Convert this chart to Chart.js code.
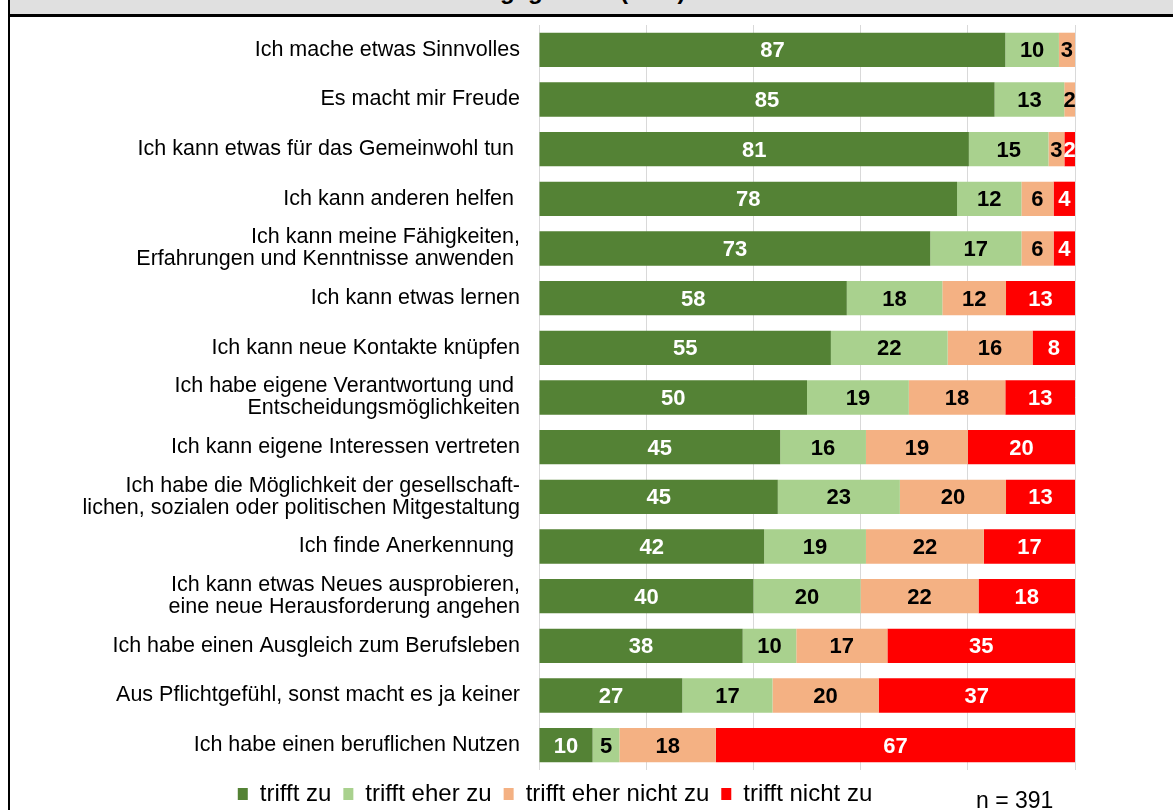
<!DOCTYPE html>
<html lang="de">
<head>
<meta charset="utf-8">
<title>Motive für das Engagement</title>
<script src="https://cdn.jsdelivr.net/npm/chart.js@4.4.1/dist/chart.umd.min.js"></script>
<style>
  html, body { margin: 0; padding: 0; background: #fff; }
  body { width: 1173px; height: 810px; position: relative; overflow: hidden; font-family: "Liberation Sans", Arial, sans-serif; }
  .header { position: absolute; left: 10px; top: 0; right: 0; height: 14px; background: #e0e0e0; overflow: hidden; z-index: 2; }
  .header span { position: absolute; left: 290px; top: -21px; font-size: 24px; line-height: 24px; font-weight: bold; white-space: nowrap; color: #000; }
  .rule { position: absolute; left: 8px; right: 0; top: 14px; height: 3px; background: #000; z-index: 2; }
  .frame-left { position: absolute; left: 8px; top: 0; bottom: 0; width: 2px; background: #000; z-index: 2; }
  #chart { position: absolute; left: 0; top: 0; }
  .n { position: absolute; left: 976px; top: 787px; font-size: 23px; color: #000; z-index: 2; }
</style>
</head>
<body>
<div class="header"><span>Motive für das Engagement (in %)</span></div>
<div class="rule"></div>
<div class="frame-left"></div>
<canvas id="chart" width="1173" height="816"></canvas>
<div class="n">n = 391</div>
<script>
const categories = [
  'Ich mache etwas Sinnvolles',
  'Es macht mir Freude',
  'Ich kann etwas für das Gemeinwohl tun ',
  'Ich kann anderen helfen ',
  ['Ich kann meine Fähigkeiten,', 'Erfahrungen und Kenntnisse anwenden '],
  'Ich kann etwas lernen',
  'Ich kann neue Kontakte knüpfen',
  ['Ich habe eigene Verantwortung und ', 'Entscheidungsmöglichkeiten'],
  'Ich kann eigene Interessen vertreten',
  ['Ich habe die Möglichkeit der gesellschaft-', 'lichen, sozialen oder politischen Mitgestaltung'],
  'Ich finde Anerkennung ',
  ['Ich kann etwas Neues ausprobieren,', 'eine neue Herausforderung angehen'],
  'Ich habe einen Ausgleich zum Berufsleben',
  'Aus Pflichtgefühl, sonst macht es ja keiner',
  'Ich habe einen beruflichen Nutzen'
];

const triffZu        = [87, 85, 81, 78, 73, 58, 55, 50, 45, 45, 42, 40, 38, 27, 10];
const triffEherZu    = [10, 13, 15, 12, 17, 18, 22, 19, 16, 23, 19, 20, 10, 17, 5];
const triffEherNicht = [3, 2, 3, 6, 6, 12, 16, 18, 19, 20, 22, 22, 17, 20, 18];
const triffNicht     = [0, 0, 2, 4, 4, 13, 8, 13, 20, 13, 17, 18, 35, 37, 67];

const seriesNames = ['trifft zu', 'trifft eher zu', 'trifft eher nicht zu', 'trifft nicht zu'];
const xTicks = [0, 20, 40, 60, 80, 100];

const fontFamily = '"Liberation Sans", Arial, sans-serif';
const colors = ['#548235', '#a9d18e', '#f4b183', '#ff0000'];
const labelColors = ['#fff', '#000', '#000', '#fff'];

// rounded shares do not always add up to 100, the bars are drawn as 100% rows
const series = [triffZu, triffEherZu, triffEherNicht, triffNicht];
const rowSums = categories.map((_, j) => series.reduce((s, d) => s + d[j], 0));

// draws the numbers in the middle of each segment
const segmentLabels = {
  id: 'segmentLabels',
  afterDatasetsDraw(chart) {
    const ctx = chart.ctx;
    ctx.save();
    ctx.font = 'bold 22px ' + fontFamily;
    ctx.textAlign = 'center';
    ctx.textBaseline = 'middle';
    chart.data.datasets.forEach((ds, i) => {
      const meta = chart.getDatasetMeta(i);
      meta.data.forEach((bar, j) => {
        const v = ds.shown[j];
        if (!v) return;
        ctx.fillStyle = labelColors[i];
        ctx.fillText(String(v), (bar.x + bar.base) / 2, bar.y + 1.5);
      });
    });
    ctx.restore();
  }
};

new Chart(document.getElementById('chart'), {
  type: 'bar',
  data: {
    labels: categories,
    datasets: series.map((d, i) => ({
      label: seriesNames[i],
      data: d.map((v, j) => v / rowSums[j] * 100),
      shown: d,
      backgroundColor: colors[i],
      borderWidth: 0,
      barPercentage: 0.69,
      categoryPercentage: 1
    }))
  },
  options: {
    indexAxis: 'y',
    responsive: false,
    animation: false,
    layout: { padding: { left: 35, right: 98, top: 25, bottom: 0 } },
    scales: {
      x: {
        stacked: true,
        min: 0,
        max: 100,
        afterBuildTicks(scale) { scale.ticks = xTicks.map(v => ({ value: v })); },
        ticks: { display: false },
        grid: { color: '#d9d9d9', lineWidth: 1, drawTicks: false },
        border: { display: false }
      },
      y: {
        stacked: true,
        grid: { display: false, drawTicks: false },
        border: { display: false },
        ticks: {
          autoSkip: false,
          color: '#000',
          padding: 19,
          font: { family: fontFamily, size: 21.5, lineHeight: 1.02 }
        },
        afterFit(scale) {
          scale.width = 504;
          scale.paddingTop = 0;
          scale.paddingBottom = 0;
        }
      }
    },
    plugins: {
      legend: {
        position: 'bottom',
        labels: {
          boxWidth: 10,
          boxHeight: 12,
          padding: 12,
          color: '#000',
          font: { family: fontFamily, size: 24 }
        }
      },
      tooltip: { enabled: false }
    }
  },
  plugins: [segmentLabels]
});
</script>
</body>
</html>
